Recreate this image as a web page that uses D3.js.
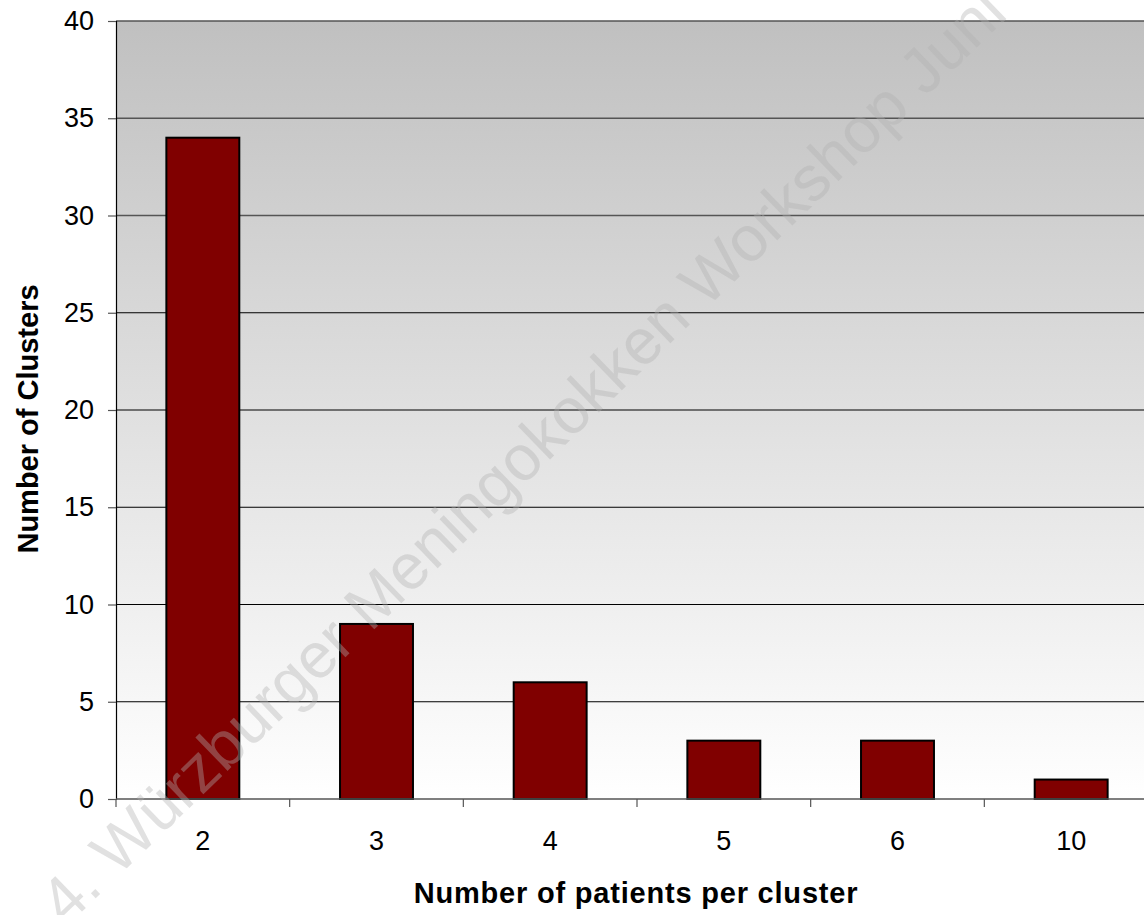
<!DOCTYPE html>
<html>
<head>
<meta charset="utf-8">
<script src="https://cdn.jsdelivr.net/npm/d3@7"></script>
<style>
  html, body { margin: 0; padding: 0; background: #fff; }
  svg { display: block; font-family: Arial, "Liberation Sans", sans-serif; }
</style>
</head>
<body>
<div class="chart"></div>
<script>
// chart data
var categories = ['2', '3', '4', '5', '6', '10'];
var clusters = [34, 9, 6, 3, 3, 1];
var yTicks = [0, 5, 10, 15, 20, 25, 30, 35, 40];

var width = 1144, height = 915;
var plot = { left: 116, right: 1158, top: 21, bottom: 799 };

var svg = d3.select('.chart').append('svg')
	.attr('width', width)
	.attr('height', height);

var x = d3.scaleBand()
	.domain(categories)
	.range([plot.left, plot.right])
	.paddingInner(0.58)
	.paddingOuter(0.29);

var y = d3.scaleLinear()
	.domain([0, 40])
	.range([plot.bottom, plot.top]);

// background gradient of the plot area
var grad = svg.append('defs').append('linearGradient')
	.attr('id', 'bg').attr('x1', 0).attr('y1', 0).attr('x2', 0).attr('y2', 1);
grad.append('stop').attr('offset', '0%').attr('stop-color', '#c0c0c0');
grad.append('stop').attr('offset', '100%').attr('stop-color', '#ffffff');

svg.append('rect')
	.attr('x', plot.left).attr('y', plot.top)
	.attr('width', plot.right - plot.left)
	.attr('height', plot.bottom - plot.top)
	.attr('fill', 'url(#bg)');

// gridlines
svg.append('g').selectAll('line').data(yTicks.slice(1)).enter().append('line')
	.attr('x1', plot.left).attr('x2', plot.right)
	.attr('y1', function(d) { return y(d); })
	.attr('y2', function(d) { return y(d); })
	.attr('stroke', function(d) { return d >= 30 ? '#555' : '#000'; })
	.attr('stroke-width', function(d) { return d >= 30 ? 1.6 : 1.2; });

// bars
svg.append('g').selectAll('rect').data(clusters).enter().append('rect')
	.attr('x', function(d, i) { return x(categories[i]); })
	.attr('y', function(d) { return y(d); })
	.attr('width', x.bandwidth())
	.attr('height', function(d) { return y(0) - y(d); })
	.attr('fill', '#800000')
	.attr('stroke', '#000')
	.attr('stroke-width', 2);

// y axis
var yAxis = d3.axisLeft(y).tickValues(yTicks).tickSize(8).tickPadding(14);
var gy = svg.append('g')
	.attr('transform', 'translate(' + plot.left + ',0)')
	.call(yAxis);
gy.select('.domain').attr('stroke', '#000').attr('stroke-width', 1.2);
gy.selectAll('.tick line').attr('stroke', '#555').attr('stroke-width', 1.2);
gy.selectAll('.tick text')
	.attr('font-size', 27)
	.attr('font-family', 'Arial, "Liberation Sans", sans-serif')
	.attr('fill', '#000');

// x axis: labels at band centres, ticks at band edges
var gx = svg.append('g').attr('transform', 'translate(0,' + plot.bottom + ')');
gx.append('line')
	.attr('x1', plot.left).attr('x2', plot.right)
	.attr('stroke', '#555').attr('stroke-width', 1.5);
var edges = d3.range(categories.length + 1).map(function(i) {
	return plot.left + i * x.step();
});
gx.selectAll('line.edge').data(edges).enter().append('line')
	.attr('class', 'edge')
	.attr('x1', function(d) { return d; })
	.attr('x2', function(d) { return d; })
	.attr('y1', 0).attr('y2', 8)
	.attr('stroke', '#555').attr('stroke-width', 1.2);
gx.selectAll('text').data(categories).enter().append('text')
	.attr('x', function(d) { return x(d) + x.bandwidth() / 2; })
	.attr('y', 51)
	.attr('text-anchor', 'middle')
	.attr('font-size', 27)
	.attr('fill', '#000')
	.text(function(d) { return d; });

// axis titles
svg.append('text')
	.attr('x', 636).attr('y', 903)
	.attr('text-anchor', 'middle')
	.attr('font-size', 29)
	.attr('font-weight', 'bold')
	.attr('letter-spacing', 0.8)
	.text('Number of patients per cluster');

svg.append('text')
	.attr('transform', 'translate(38,419) rotate(-90)')
	.attr('text-anchor', 'middle')
	.attr('font-size', 29)
	.attr('font-weight', 'bold')
	.text('Number of Clusters');

// watermark
svg.append('text')
	.attr('transform', 'translate(66,927) rotate(-44)')
	.attr('font-size', 64)
	.attr('fill', '#b0b0b0')
	.attr('fill-opacity', 0.38)
	.text('4. Würzburger Meningokokken Workshop Juni');
</script>
</body>
</html>
